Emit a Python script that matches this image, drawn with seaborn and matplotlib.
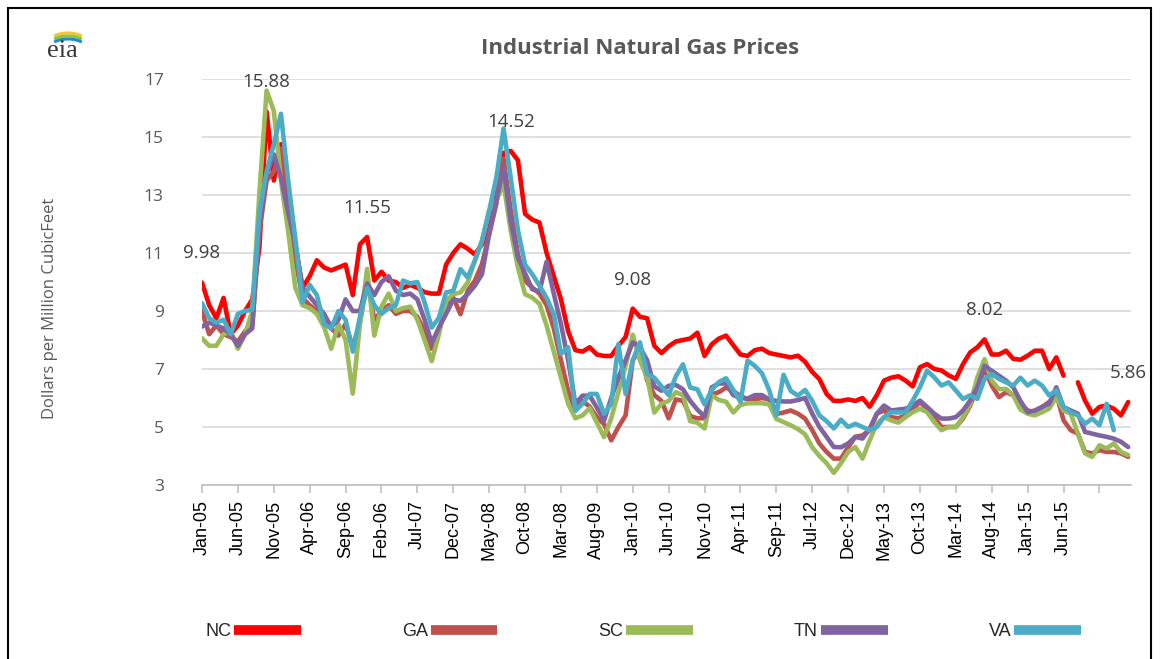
import numpy as np
import pandas as pd
import seaborn as sns
import matplotlib.pyplot as plt
from matplotlib.lines import Line2D
from matplotlib.patches import Rectangle, Arc

nan = np.nan

tick_labels = ['Jan-05', 'Jun-05', 'Nov-05', 'Apr-06', 'Sep-06', 'Feb-06', 'Jul-07', 'Dec-07',
               'May-08', 'Oct-08', 'Mar-08', 'Aug-09', 'Jan-10', 'Jun-10', 'Nov-10', 'Apr-11',
               'Sep-11', 'Jul-12', 'Dec-12', 'May-13', 'Oct-13', 'Mar-14', 'Aug-14', 'Jan-15',
               'Jun-15']

# monthly prices, $/Mcf
nc = [9.98, 9.2, 8.75, 9.45, 8.2, 8.5, 9.0, 9.4, 11.2, 15.88,
      13.5, 14.75, 12.8, 11.3, 9.8, 10.2, 10.75, 10.5, 10.4, 10.5,
      10.6, 9.55, 11.3, 11.55, 10.05, 10.35, 10.05, 10.0, 9.8, 9.9,
      9.8, 9.65, 9.6, 9.6, 10.6, 11.0, 11.3, 11.15, 10.95, 11.3,
      11.8, 13.2, 14.45, 14.52, 14.2, 12.35, 12.15, 12.05, 11.0, 10.2,
      9.4, 8.3, 7.65, 7.6, 7.75, 7.5, 7.45, 7.45, 7.8, 8.1,
      9.08, 8.8, 8.75, 7.8, 7.55, 7.78, 7.95, 8.0, 8.05, 8.25,
      7.45, 7.85, 8.05, 8.15, 7.82, 7.5, 7.45, 7.65, 7.7, 7.55,
      7.5, 7.45, 7.4, 7.46, 7.25, 6.9, 6.65, 6.14, 5.9, 5.9,
      5.95, 5.9, 6.0, 5.7, 6.1, 6.6, 6.7, 6.75, 6.6, 6.4,
      7.06, 7.17, 7.0, 6.95, 6.78, 6.66, 7.17, 7.57, 7.75, 8.02,
      7.5, 7.5, 7.63, 7.35, 7.32, 7.46, 7.63, 7.63, 7.0, 7.4,
      6.77, nan, 6.54, 5.91, 5.46, 5.69, 5.74, 5.63, 5.4, 5.86]

ga = [9.0, 8.2, 8.5, 8.2, 8.1, 7.95, 8.3, 8.5, 11.75, 13.5,
      13.8, 14.6, 12.4, 10.8, 9.45, 9.2, 9.0, 8.7, 8.4, 8.15,
      8.55, 7.75, 8.6, 10.05, 8.7, 9.0, 9.2, 8.9, 9.0, 9.0,
      8.8, 8.3, 7.7, 8.3, 9.23, 9.46, 8.89, 9.7, 10.04, 10.62,
      11.65, 12.7, 14.25, 12.46, 10.96, 10.04, 9.81, 9.6, 9.2, 8.4,
      7.3, 6.25, 5.57, 5.9, 5.7, 5.34, 5.1, 4.54, 5.0, 5.4,
      7.3, 7.7, 6.6, 6.1, 5.9, 5.3, 5.95, 5.9, 5.38, 5.3,
      5.3, 6.13, 6.2, 6.36, 6.24, 6.07, 5.95, 5.95, 6.0, 5.95,
      5.45, 5.5, 5.57, 5.46, 5.29, 4.89, 4.43, 4.14, 3.91, 3.91,
      4.3, 4.66, 4.71, 4.89, 5.46, 5.57, 5.34, 5.3, 5.4, 5.63,
      5.86, 5.63, 5.34, 5.0, 5.0, 5.0, 5.29, 5.74, 6.37, 7.0,
      6.43, 6.03, 6.2, 6.09, 5.8, 5.57, 5.51, 5.69, 5.86, 6.14,
      5.23, 4.89, 4.77, 4.14, 4.09, 4.2, 4.14, 4.14, 4.09, 3.97]

sc = [8.06, 7.8, 7.8, 8.2, 8.3, 7.7, 8.2, 9.0, 13.1, 16.6,
      15.9, 13.5, 11.75, 9.8, 9.2, 9.1, 8.9, 8.45, 7.7, 8.55,
      8.0, 6.15, 8.55, 10.45, 8.15, 9.15, 9.6, 9.0, 9.1, 9.15,
      8.7, 8.0, 7.27, 8.2, 9.35, 9.58, 9.64, 9.98, 10.73, 11.42,
      12.46, 12.8, 13.4, 11.77, 10.5, 9.58, 9.46, 9.25, 8.5, 7.6,
      6.7, 5.8, 5.3, 5.4, 5.65, 5.15, 4.65, 5.3, 6.2, 7.1,
      8.18, 7.3, 6.7, 5.5, 5.8, 5.9, 6.2, 6.1, 5.2, 5.15,
      4.95, 6.1, 5.93, 5.87, 5.5, 5.76, 5.82, 5.82, 5.82, 5.78,
      5.28, 5.17, 5.06, 4.93, 4.75, 4.3, 4.0, 3.75, 3.42, 3.75,
      4.14, 4.31, 3.91, 4.54, 5.11, 5.34, 5.23, 5.15, 5.34, 5.51,
      5.63, 5.51, 5.17, 4.89, 5.0, 5.0, 5.34, 5.8, 6.71, 7.34,
      6.6, 6.31, 6.31, 6.09, 5.6, 5.46, 5.4, 5.51, 5.63, 6.03,
      5.57, 5.46, 4.77, 4.09, 3.97, 4.37, 4.26, 4.43, 4.14, 4.03]

tn = [8.46, 8.6, 8.5, 8.4, 8.2, 7.8, 8.2, 8.4, 12.1, 13.7,
      14.4, 13.6, 12.4, 11.3, 9.8, 9.5, 9.2, 8.9, 8.45, 8.7,
      9.4, 9.0, 9.0, 9.95, 9.55, 10.0, 10.2, 9.7, 9.55, 9.6,
      9.4, 8.7, 7.9, 8.43, 8.9, 9.4, 9.35, 9.58, 9.87, 10.27,
      11.65, 12.8, 13.96, 12.1, 10.85, 10.3, 9.75, 9.67, 10.7, 9.6,
      8.55, 7.3, 5.8, 6.08, 6.08, 5.67, 5.22, 6.0, 6.7, 7.3,
      7.92, 7.75, 7.3, 6.4, 6.25, 6.42, 6.45, 6.3, 5.9, 5.6,
      5.35, 6.37, 6.5, 6.5, 6.1, 6.0, 5.98, 6.1, 6.1, 5.95,
      5.9, 5.88, 5.88, 5.93, 6.0, 5.46, 5.0, 4.66, 4.31, 4.3,
      4.43, 4.66, 4.6, 4.94, 5.46, 5.74, 5.57, 5.6, 5.63, 5.74,
      5.91, 5.69, 5.46, 5.29, 5.29, 5.34, 5.57, 5.91, 6.37, 7.11,
      6.94, 6.77, 6.6, 6.37, 5.9, 5.51, 5.57, 5.69, 5.8, 6.37,
      5.69, 5.57, 5.46, 4.83, 4.77, 4.71, 4.66, 4.6, 4.49, 4.31]

va = [9.27, 8.75, 8.6, 8.7, 8.2, 8.9, 9.0, 9.05, 12.4, 13.8,
      14.75, 15.8, 13.5, 11.5, 9.3, 9.9, 9.55, 8.55, 8.4, 9.0,
      8.7, 7.6, 8.8, 9.8, 9.2, 8.9, 9.1, 9.2, 10.05, 9.95,
      10.0, 9.3, 8.43, 8.77, 9.64, 9.7, 10.44, 10.16, 10.73, 11.42,
      12.46, 13.6, 15.29, 13.6, 11.8, 10.6, 10.27, 9.88, 9.45, 8.9,
      7.52, 7.75, 5.56, 5.8, 6.14, 6.14, 5.45, 5.8, 7.86, 6.14,
      7.3, 7.92, 6.83, 6.7, 6.4, 6.1, 6.75, 7.16, 6.36, 6.3,
      5.78, 6.28, 6.55, 6.68, 6.28, 5.87, 7.29, 7.11, 6.85, 6.28,
      5.4, 6.8, 6.25, 6.08, 6.28, 5.9, 5.4, 5.2, 4.95, 5.25,
      5.0, 5.11, 5.0, 4.89, 5.0, 5.34, 5.51, 5.5, 5.51, 5.91,
      6.37, 6.94, 6.71, 6.43, 6.54, 6.26, 5.97, 6.09, 5.97, 6.66,
      6.83, 6.66, 6.54, 6.43, 6.7, 6.43, 6.6, 6.43, 6.09, 6.26,
      5.69, 5.51, 5.4, 5.11, 5.29, 5.06, 5.8, 4.89, nan, nan]

states = ['NC', 'GA', 'SC', 'TN', 'VA']
colors = ['#FF0000', '#C0504D', '#9BBB59', '#8064A2', '#4BACC6']
label_points = [0, 9, 23, 43, 60, 109, 129]

frames = []
for name, vals in zip(states, [nc, ga, sc, tn, va]):
    s = pd.Series(vals, dtype=float)
    seg = s.isna().cumsum().astype(str)
    d = pd.DataFrame({'month': np.arange(len(s)), 'price': s,
                      'state': name, 'seg': name + seg})
    frames.append(d.dropna())
df = pd.concat(frames, ignore_index=True)

sns.set_style('white')
plt.rcParams['font.family'] = ['Liberation Sans', 'DejaVu Sans']

W, H = 1162, 659
fig = plt.figure(figsize=(W / 100, H / 100), dpi=100)
ax = fig.add_axes([202 / W, 174 / H, 929 / W, 406 / H])

sns.lineplot(data=df, x='month', y='price', hue='state', hue_order=states,
             units='seg', estimator=None, sort=False,
             palette=dict(zip(states, colors)), linewidth=3.3,
             legend=False, ax=ax)

ax.set_xlim(0, 129.4)
ax.set_ylim(3, 17)
ax.set_yticks(range(3, 18, 2))
ax.yaxis.grid(True, color='#D9D9D9', linewidth=1.2)
ax.set_axisbelow(True)
for sp in ['top', 'right', 'left']:
    ax.spines[sp].set_visible(False)
ax.spines['bottom'].set_color('#BFBFBF')
ax.spines['bottom'].set_linewidth(1.2)

ax.set_xticks(range(0, 126, 5))
ax.set_xticklabels(tick_labels + [''], rotation=90, fontsize=13, color='#000000')
ax.tick_params(axis='x', bottom=True, length=6, color='#BFBFBF', width=1.2, pad=5)
ax.tick_params(axis='y', left=False, pad=24, labelsize=12.5, labelcolor='#595959')
for t in ax.get_yticklabels():
    t.set_family(['Open Sans', 'DejaVu Sans'])
ax.set_xlabel('')
ax.set_ylabel('')

for i in label_points:
    ax.annotate(f'{nc[i]:.2f}', (i, nc[i]), xytext=(0, 21), textcoords='offset points',
                ha='center', va='center', fontsize=13.5, color='#404040',
                family=['Open Sans', 'DejaVu Sans'])

fig.text(640 / W, 1 - 48 / H, 'Industrial Natural Gas Prices', ha='center', va='center',
         fontsize=16, fontweight='bold', color='#595959', family=['Open Sans', 'DejaVu Sans'])
fig.text(50 / W, 1 - 308 / H, 'Dollars per Million CubicFeet', rotation=90, ha='center',
         va='center', fontsize=12, color='#595959', family=['Open Sans', 'DejaVu Sans'])

handles = [Line2D([], [], color=c, linewidth=7, solid_capstyle='butt') for c in colors]
fig.legend(handles, states, ncol=5, loc='center', bbox_to_anchor=(643 / W, 1 - 632 / H),
           frameon=False, markerfirst=False, handlelength=3.7, handletextpad=0.15,
           columnspacing=5.6, fontsize=13)

# eia logo: word plus three coloured swooshes above it
fig.text(62 / W, 1 - 51 / H, 'eia', ha='center', va='center', fontsize=19,
         color='#3a3a3a', family=['Liberation Serif', 'DejaVu Serif'])
lax = fig.add_axes([44 / W, 1 - 43 / H, 46 / W, 12 / H])
lax.set_xlim(0, 46)
lax.set_ylim(0, 12)
lax.axis('off')
for c, dy in [('#F2C62F', 3), ('#8DC63F', 0), ('#1E8CC8', -3)]:
    lax.add_patch(Arc((24, -4 + dy), 40, 22, theta1=30, theta2=150,
                      color=c, linewidth=2.2))

fig.patches.append(Rectangle((8 / W, -0.01), (1151 - 8) / W, 1.01 - 8 / H,
                             transform=fig.transFigure, fill=False,
                             edgecolor='black', linewidth=1.5))

fig.savefig('out.png', dpi=100)
